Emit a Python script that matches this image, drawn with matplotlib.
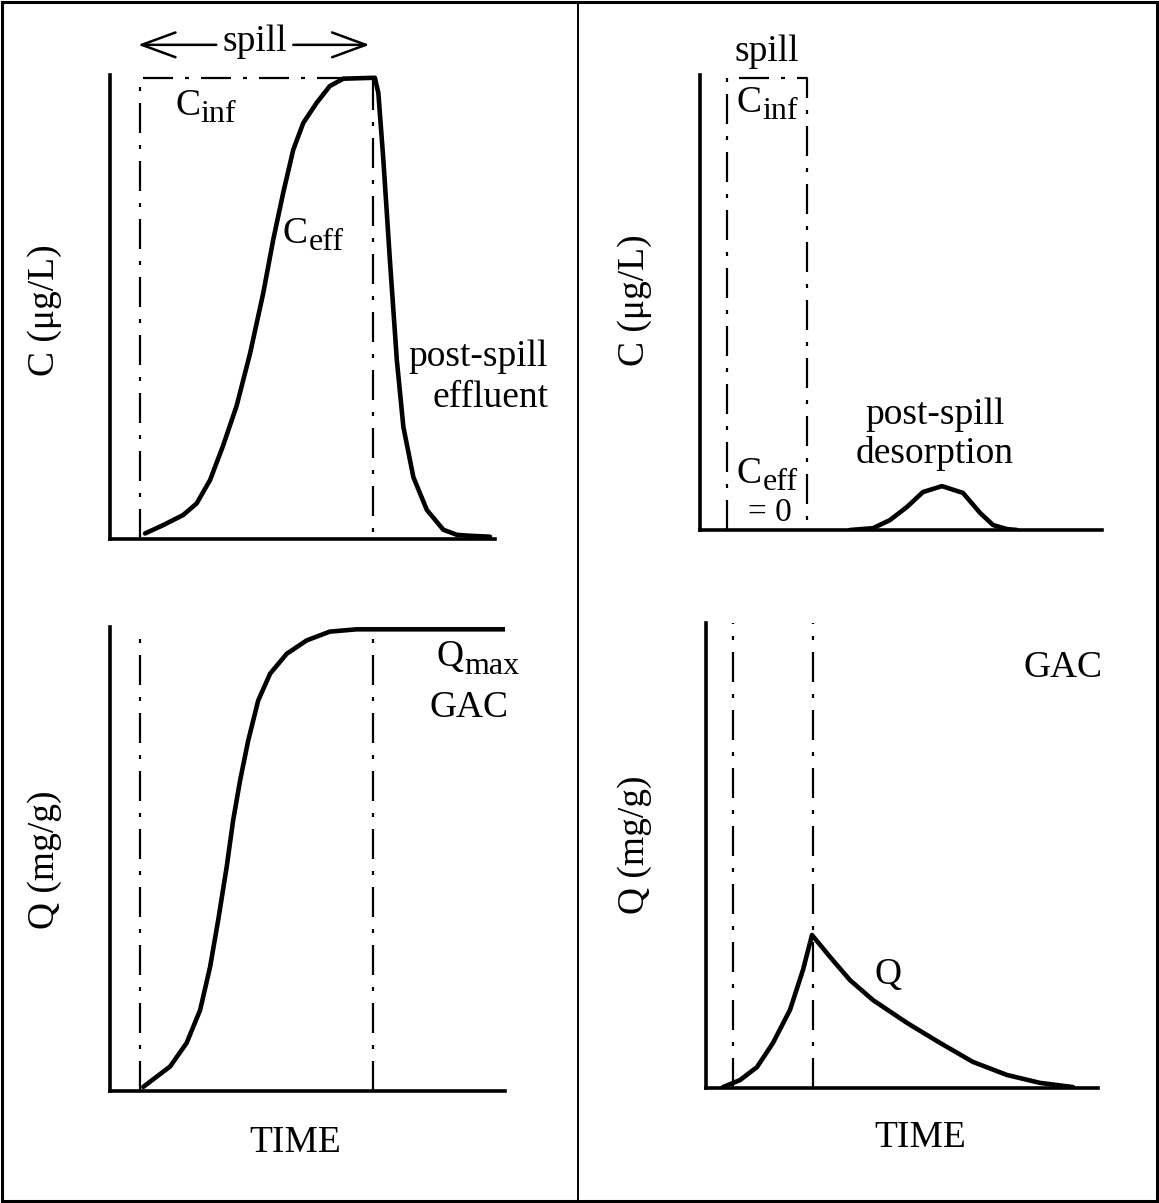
import matplotlib
matplotlib.use("Agg")
import matplotlib.pyplot as plt
from matplotlib.patches import Rectangle
from matplotlib.lines import Line2D

plt.rcParams['font.family'] = ['Liberation Serif', 'DejaVu Serif']
plt.rcParams['font.size'] = 27

# ---- data (arbitrary time units, C in % of C_inf, Q in % of Q_max) ----
# left side: spill into a fresh GAC column
spill_left = (7.8, 68.4)
t_ceff = [9.1, 13.8, 19.0, 22.5, 26.0, 29.4, 32.9, 36.4, 39.8, 42.4, 45.0, 47.6,
          50.2, 53.7, 57.1, 60.6, 68.8, 69.7, 71.0, 72.7, 74.5, 76.2, 78.8, 82.3,
          86.6, 90.1, 93.5, 98.7]
c_eff = [1.2, 3.0, 5.2, 7.7, 12.8, 20.3, 28.9, 40.3, 53.3, 64.9, 75.1, 84.4,
         90.2, 94.6, 98.2, 99.8, 100, 96.7, 82.2, 60.5, 38.8, 24.3, 13.4, 6.3,
         2.0, 0.9, 0.7, 0.5]
t_qleft = [8.65, 15.6, 19.9, 23.4, 26.0, 28.1, 30.3, 32.0, 33.8, 35.9, 38.5, 41.6,
           45.9, 51.1, 57.1, 64.1, 67.5, 102.6]
q_left = [0.9, 5.3, 10.4, 17.5, 26.9, 37.0, 48.5, 58.7, 67.3, 75.9, 84.6, 90.4,
          94.7, 97.6, 99.5, 100, 100, 100]

# right side: short spill, then post-spill desorption
spill_right = (6.75, 26.75)
t_desorb = [37.5, 43.25, 47.5, 51.75, 55.75, 60.5, 65.75, 70, 73.25, 76.75, 79.25]
c_desorb = [0, 0.4, 2.2, 5.1, 8.4, 9.7, 8.2, 3.8, 1.1, 0.2, 0]
t_qright = [4.25, 8.5, 12.75, 16.75, 21, 24.25, 26.5, 31, 36, 41.75, 50.25, 58.5,
            66.75, 75.25, 83.5, 91.75]
q_right = [0.2, 1.7, 4.5, 9.7, 16.8, 25.4, 32.9, 28.2, 23.2, 18.9, 14.0, 9.7,
           5.6, 2.8, 1.1, 0.2]

W, H = 1159, 1203
fig = plt.figure(figsize=(W / 100, H / 100), dpi=100)

dashdot = (0, (13.5, 5.4, 1.8, 5.4))
curve_kw = dict(color='black', lw=3.3, solid_capstyle='round', solid_joinstyle='round')
dd_kw = dict(color='black', lw=1.6, linestyle=dashdot)


def make_axes(px_left, px_right, px_bottom, px_top, xlim, ylim):
    ax = fig.add_axes([px_left / W, 1 - px_bottom / H,
                       (px_right - px_left) / W, (px_bottom - px_top) / H])
    ax.set_xlim(*xlim)
    ax.set_ylim(*ylim)
    for s in ['top', 'right']:
        ax.spines[s].set_visible(False)
    for s in ['left', 'bottom']:
        ax.spines[s].set_linewidth(2.6)
        ax.spines[s].set_capstyle('projecting')
    ax.set_xticks([])
    ax.set_yticks([])
    ax.patch.set_visible(False)
    return ax


def spill_box(ax, s, e, top=True):
    if top:
        ax.plot([s, s, e, e], [0, 100, 100, 0], **dd_kw)
    else:
        ax.plot([s, s], [0, 100], **dd_kw)
        ax.plot([e, e], [0, 100], **dd_kw)


def sub_label(ax, x, y, main, sub):
    t = ax.text(x, y, main, ha='left', va='baseline', clip_on=False)
    ax.annotate(sub, xy=(1, 0), xytext=(0.5, 0.5), xycoords=t,
                textcoords='offset points', ha='left', va='baseline', fontsize=23)


# ---- top left ----
ax1 = make_axes(110, 495, 539, 75, (0, 100), (0, 100.6))
spill_box(ax1, *spill_left)
ax1.plot(t_ceff, c_eff, **curve_kw)
sub_label(ax1, 16.9, 92.0, 'C', 'inf')
sub_label(ax1, 44.9, 64.2, 'C', 'eff')
ax1.text(113.8, 35.0, 'post-spill\neffluent', ha='right', va='center',
         multialignment='right', linespacing=1.25, clip_on=False)
mid = (spill_left[0] + spill_left[1]) / 2
ax1.text(mid - 0.5, 1.072, 'spill', ha='center', va='center',
         transform=ax1.get_xaxis_transform(), clip_on=False)
arrow = dict(arrowstyle='->,head_length=0.9,head_width=0.33', lw=1.8,
             color='black', shrinkA=0, shrinkB=0, mutation_scale=27)
ax1.annotate('', xy=(spill_left[0] - 0.5, 1.065), xytext=(mid - 10.5, 1.065),
             xycoords=('data', 'axes fraction'), arrowprops=arrow)
ax1.annotate('', xy=(spill_left[1] - 1, 1.065), xytext=(mid + 9.5, 1.065),
             xycoords=('data', 'axes fraction'), arrowprops=arrow)

# ---- bottom left ----
ax2 = make_axes(110, 505, 1091, 627, (0, 102.6), (0, 100.5))
spill_box(ax2, *spill_left, top=False)
ax2.plot(t_qleft, q_left, **curve_kw)
sub_label(ax2, 84.9, 92.0, 'Q', 'max')
ax2.text(103.4, 83.0, 'GAC', ha='right', va='center', clip_on=False)

# ---- top right ----
ax3 = make_axes(700, 1102, 530, 75, (0, 100.5), (0, 100.6))
spill_box(ax3, *spill_right)
ax3.plot(t_desorb, c_desorb, **curve_kw)
mid_r = (spill_right[0] + spill_right[1]) / 2
ax3.text(mid_r, 1.051, 'spill', ha='center', va='center',
         transform=ax3.get_xaxis_transform(), clip_on=False)
sub_label(ax3, 9.25, 92.4, 'C', 'inf')
sub_label(ax3, 9.25, 10.4, 'C', 'eff')
ax3.text(12.0, 3.8, '= 0', ha='left', va='center', fontsize=24)
ax3.text(58.75, 21.2, 'post-spill\ndesorption', ha='center', va='center',
         linespacing=1.17)

# ---- bottom right ----
ax4 = make_axes(706, 1098, 1088, 623, (0, 98), (0, 100))
spill_box(ax4, *spill_right, top=False)
ax4.plot(t_qright, q_right, **curve_kw)
ax4.text(89.25, 90.3, 'GAC', ha='center', va='center')
ax4.text(45.5, 24.3, 'Q', ha='center', va='center')

# ---- axis labels ----
fig.text(45 / W, 1 - 310 / H, 'C (μg/L)', rotation=90, ha='center', va='center')
fig.text(45 / W, 1 - 860 / H, 'Q (mg/g)', rotation=90, ha='center', va='center')
fig.text(635 / W, 1 - 300 / H, 'C (μg/L)', rotation=90, ha='center', va='center')
fig.text(635 / W, 1 - 845 / H, 'Q (mg/g)', rotation=90, ha='center', va='center')
fig.text(295 / W, 1 - 1143 / H, 'TIME', ha='center', va='center')
fig.text(920 / W, 1 - 1138 / H, 'TIME', ha='center', va='center')

# ---- frame and divider ----
fig.add_artist(Rectangle((2 / W, 2 / H), 1 - 4 / W, 1 - 4 / H, transform=fig.transFigure,
                         fill=False, lw=2.2, edgecolor='black'))
fig.add_artist(Line2D([578 / W, 578 / W], [2 / H, 1 - 2 / H], transform=fig.transFigure,
                      color='black', lw=1.4))

fig.savefig('out.png', dpi=100, facecolor='white')
